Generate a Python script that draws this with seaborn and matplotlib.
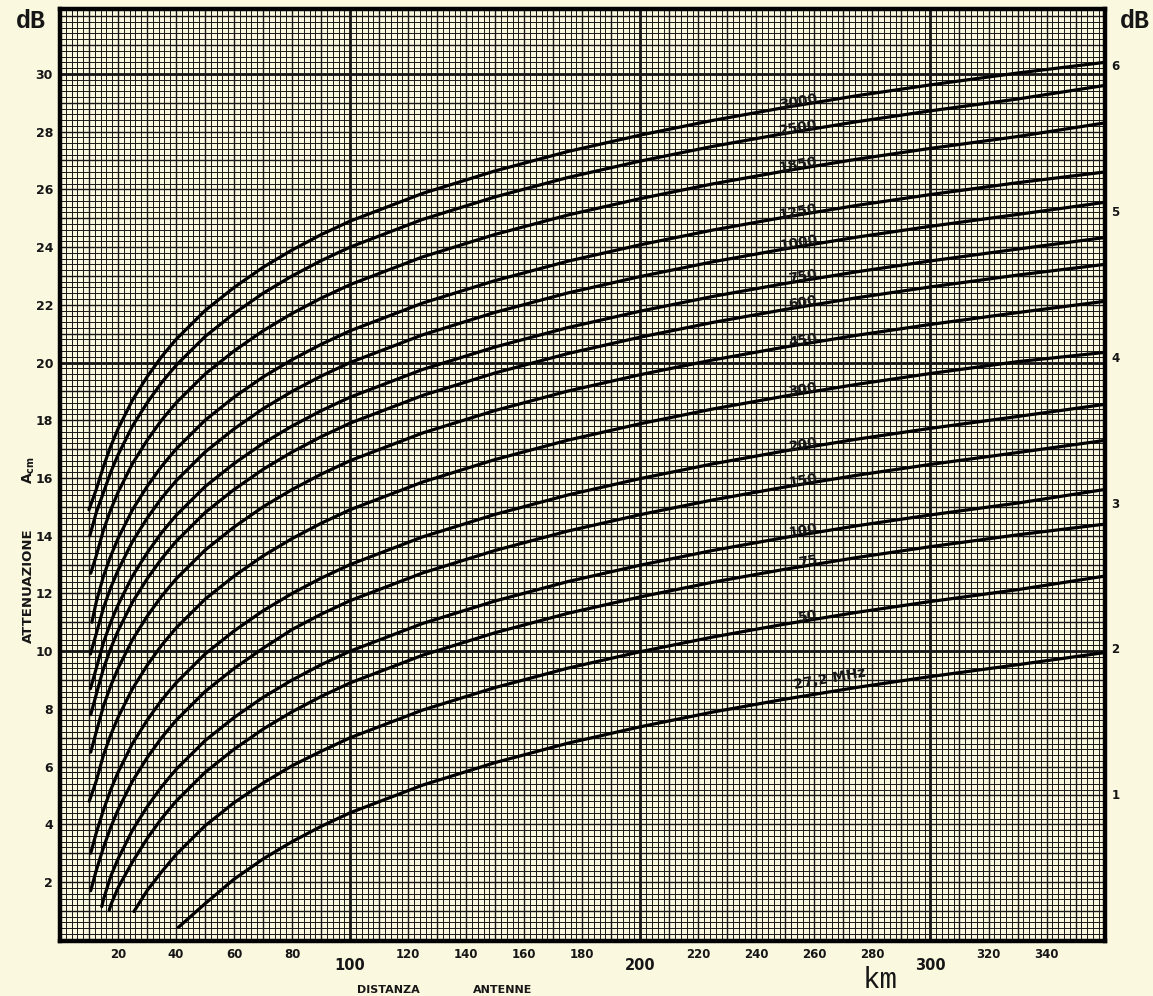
import numpy as np
import pandas as pd
import matplotlib
matplotlib.use("Agg")
import matplotlib.pyplot as plt
import seaborn as sns
from matplotlib.transforms import ScaledTranslation

# curve labels (MHz) and the distance where each curve begins
freqs = ["3000", "2500", "1850", "1250", "1000", "750", "600", "450",
         "300", "200", "150", "100", "75", "50", "27,2 MHz"]
start_km = [10, 10.3, 10.6, 11, 10.5, 10.5, 10.6, 10.6,
            10.1, 10.6, 10.6, 14.4, 17, 25.5, 40.8]
# read points after the start
grid_km = [12.5, 15, 17.5, 20, 25, 30, 35, 40, 50, 60, 70, 80, 90,
           100, 125, 150, 175, 200, 225, 250, 275, 300, 330, 360]

# attenuation (dB), first value = start point
db_3000 = [14.9, 15.6, 16.4, 17.1, 17.7, 18.7, 19.5, 20.2, 20.8, 21.8, 22.6, 23.3, 23.9, 24.43, 24.9, 25.86, 26.64, 27.31, 27.88, 28.39, 28.84, 29.25, 29.62, 30.03, 30.4]
db_2500 = [14.0, 14.8, 15.5, 16.2, 16.8, 17.8, 18.6, 19.3, 19.9, 20.9, 21.7, 22.4, 23.0, 23.53, 24.0, 24.96, 25.74, 26.41, 26.98, 27.49, 27.94, 28.35, 28.72, 29.13, 29.6]
db_1850 = [12.7, 13.3, 14.2, 14.9, 15.5, 16.5, 17.3, 18.0, 18.6, 19.6, 20.4, 21.1, 21.7, 22.23, 22.7, 23.66, 24.44, 25.11, 25.68, 26.19, 26.64, 27.05, 27.42, 27.83, 28.3]
db_1250 = [11.0, 11.7, 12.6, 13.3, 13.9, 14.9, 15.7, 16.4, 17.0, 18.0, 18.8, 19.5, 20.1, 20.63, 21.1, 22.06, 22.84, 23.51, 24.08, 24.59, 25.04, 25.45, 25.82, 26.23, 26.6]
db_1000 = [9.9, 10.6, 11.5, 12.2, 12.8, 13.8, 14.6, 15.3, 15.9, 16.9, 17.7, 18.4, 19.0, 19.53, 20.0, 20.96, 21.74, 22.41, 22.98, 23.49, 23.94, 24.35, 24.72, 25.13, 25.55]
db_750 = [8.7, 9.4, 10.3, 11.0, 11.6, 12.6, 13.4, 14.1, 14.7, 15.7, 16.5, 17.2, 17.8, 18.33, 18.8, 19.76, 20.54, 21.21, 21.78, 22.29, 22.74, 23.15, 23.52, 23.93, 24.33]
db_600 = [7.8, 8.5, 9.4, 10.1, 10.7, 11.7, 12.5, 13.2, 13.8, 14.8, 15.6, 16.3, 16.9, 17.43, 17.9, 18.86, 19.64, 20.31, 20.88, 21.39, 21.84, 22.25, 22.62, 23.03, 23.4]
db_450 = [6.5, 7.2, 8.1, 8.8, 9.4, 10.4, 11.2, 11.9, 12.5, 13.5, 14.3, 15.0, 15.6, 16.13, 16.6, 17.56, 18.34, 19.01, 19.58, 20.09, 20.54, 20.95, 21.32, 21.73, 22.12]
db_300 = [4.8, 5.5, 6.4, 7.1, 7.7, 8.7, 9.5, 10.2, 10.8, 11.8, 12.6, 13.3, 13.9, 14.43, 14.9, 15.86, 16.64, 17.31, 17.88, 18.39, 18.84, 19.25, 19.62, 20.03, 20.35]
db_200 = [3.0, 3.7, 4.5, 5.2, 5.8, 6.8, 7.6, 8.3, 8.9, 9.9, 10.7, 11.4, 12.0, 12.53, 13.0, 13.96, 14.74, 15.41, 15.98, 16.49, 16.94, 17.35, 17.72, 18.13, 18.55]
db_150 = [1.7, 2.4, 3.2, 3.9, 4.5, 5.5, 6.3, 7.0, 7.6, 8.6, 9.4, 10.1, 10.75, 11.28, 11.75, 12.71, 13.49, 14.16, 14.73, 15.24, 15.69, 16.1, 16.47, 16.88, 17.3]
db_100 = [1.15, 1.4, 2.2, 2.8, 3.8, 4.6, 5.3, 5.9, 6.9, 7.7, 8.4, 9.0, 9.53, 10.0, 10.96, 11.74, 12.41, 12.98, 13.49, 13.94, 14.35, 14.72, 15.13, 15.6]
db_75 = [1.03, 1.2, 1.8, 2.7, 3.5, 4.2, 4.8, 5.8, 6.6, 7.3, 7.9, 8.43, 8.9, 9.86, 10.64, 11.31, 11.88, 12.39, 12.84, 13.25, 13.62, 14.03, 14.4]
db_50 = [0.98, 1.7, 2.35, 2.95, 3.95, 4.75, 5.43, 6.03, 6.53, 7.0, 7.96, 8.74, 9.41, 9.98, 10.49, 10.94, 11.35, 11.72, 12.13, 12.6]
db_27 = [0.43, 1.25, 2.1, 2.8, 3.4, 3.93, 4.4, 5.36, 6.14, 6.81, 7.38, 7.89, 8.34, 8.75, 9.12, 9.53, 9.95]

all_db = [db_3000, db_2500, db_1850, db_1250, db_1000, db_750, db_600, db_450,
          db_300, db_200, db_150, db_100, db_75, db_50, db_27]

rows = []
for f, s, vals in zip(freqs, start_km, all_db):
    kms = [s] + [g for g in grid_km if g > s]
    for k, v in zip(kms, vals):
        rows.append({"freq": f, "km": k, "dB": v})
df = pd.DataFrame(rows)

paper = "#fbf8e0"
sns.set_theme(style="white")
plt.rcParams["font.family"] = ["DejaVu Sans"]

fig = plt.figure(figsize=(11.53, 9.96), dpi=100, facecolor=paper)
ax = fig.add_axes([0.052, 0.055, 0.906, 0.936])
ax.set_facecolor(paper)
ax.set_xlim(0, 360)
ax.set_ylim(-0.05, 32.25)

# graph paper
ink = "#161616"
ax.vlines(np.arange(0, 361, 2), -0.05, 32.25, color=ink, lw=0.7, zorder=1)
ax.hlines(np.arange(0, 32.3, 0.2), 0, 360, color=ink, lw=0.7, zorder=1)
ax.vlines(np.arange(0, 361, 10), -0.05, 32.25, color=ink, lw=1.0, zorder=1)
ax.hlines(np.arange(0, 33, 1), 0, 360, color=ink, lw=1.0, zorder=1)
ax.vlines([100, 200, 300], -0.05, 32.25, color=ink, lw=2.0, zorder=1)
ax.hlines([10, 20, 30], 0, 360, color=ink, lw=2.0, zorder=1)

sns.lineplot(data=df, x="km", y="dB", units="freq", estimator=None,
             color="black", lw=2.3, sort=False, ax=ax, zorder=3)

# curve labels
for f, s, vals in zip(freqs, start_km, all_db):
    kms = [s] + [g for g in grid_km if g > s]
    if f.endswith("MHz"):
        xl, ha = 253, "left"
        yl = np.interp(262, kms, vals) + 0.3
    else:
        xl, ha = 261, "right"
        yl = np.interp(251, kms, vals) + 0.3
    ax.text(xl, yl, f, ha=ha, va="center", rotation=10, rotation_mode="anchor",
            fontsize=10, fontweight="bold", color=ink, zorder=4)

for s in ax.spines.values():
    s.set_visible(True)
    s.set_color("black")
    s.set_linewidth(3.2)

ax.set_xlabel("")
ax.set_ylabel("")
ax.set_yticks(range(2, 31, 2))
ax.set_yticklabels([str(v) for v in range(2, 31, 2)], fontsize=9, fontweight="bold")
xt = list(range(20, 341, 20))
ax.set_xticks(xt)
ax.set_xticklabels([str(v) for v in xt], fontsize=8.5, fontweight="bold")
ax.tick_params(axis="both", length=0, pad=5, colors=ink)
for lab in ax.get_xticklabels():
    if lab.get_text() in ("100", "200", "300"):
        lab.set_fontsize(10.5)
        lab.set_transform(lab.get_transform() + ScaledTranslation(0, -0.1, fig.dpi_scale_trans))

sec = ax.secondary_yaxis("right", functions=(lambda y: y / 5.05, lambda r: r * 5.05))
sec.set_yticks(range(1, 7))
sec.set_yticklabels([str(v) for v in range(1, 7)], fontsize=8.5, fontweight="bold")
sec.tick_params(length=0, pad=5, colors=ink)
sec.spines["right"].set_visible(False)

fig.text(0.027, 0.979, "dB", family="Liberation Mono", fontsize=18, fontweight="bold",
         ha="center", va="center", color=ink)
fig.text(0.984, 0.979, "dB", family="Liberation Mono", fontsize=18, fontweight="bold",
         ha="center", va="center", color=ink)
fig.text(0.763, 0.002, "km", family="Liberation Mono", fontsize=21, ha="center",
         va="bottom", color=ink)
fig.text(0.337, 0.006, "DISTANZA", fontsize=8, fontweight="bold",
         ha="center", va="center", color=ink)
fig.text(0.436, 0.006, "ANTENNE", fontsize=8, fontweight="bold",
         ha="center", va="center", color=ink)
fig.text(0.025, 0.412, "ATTENUAZIONE", rotation=90, fontsize=9.5,
         fontweight="bold", ha="center", va="center", color=ink)
fig.text(0.025, 0.528, r"A$_{\mathbf{cm}}$", rotation=90, fontsize=10,
         fontweight="bold", ha="center", va="center", color=ink)

fig.savefig("out.png", dpi=100, facecolor=paper)
